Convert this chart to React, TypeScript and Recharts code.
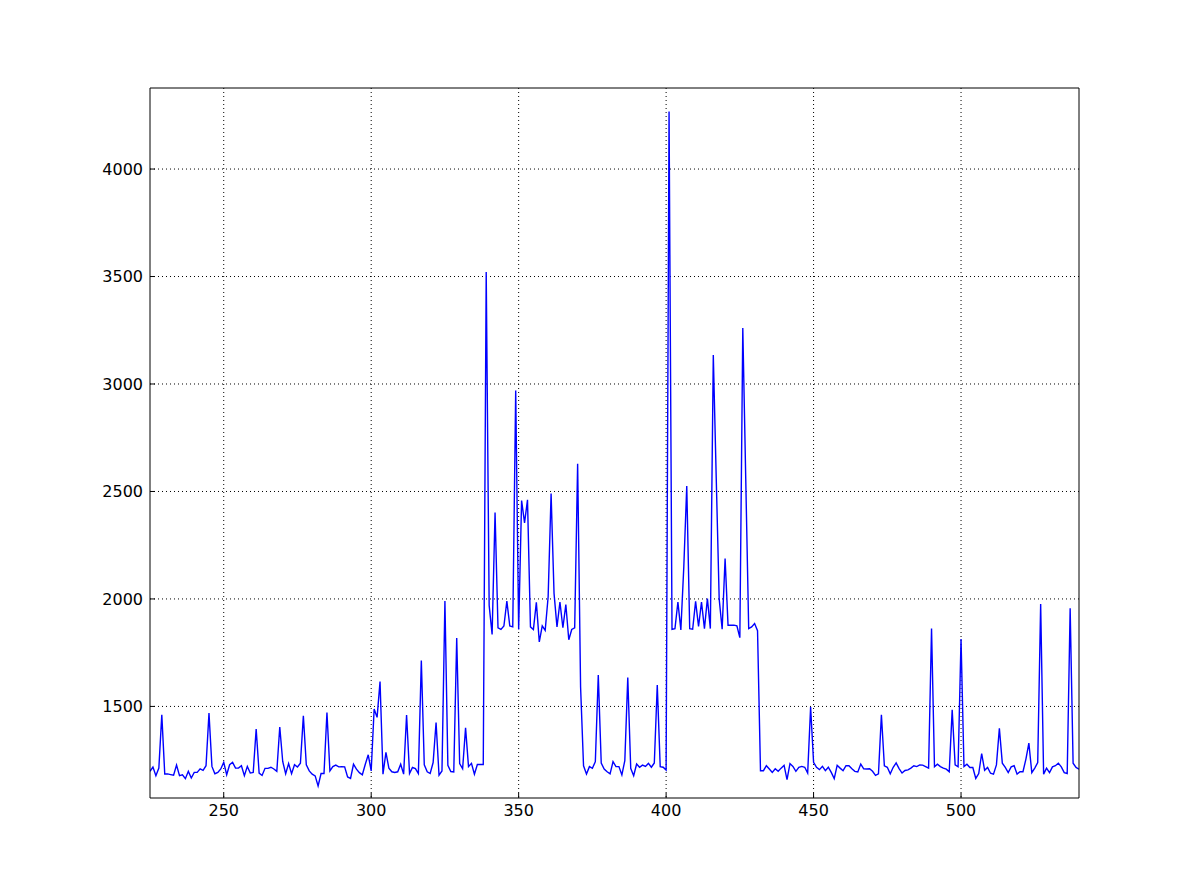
import { LineChart, Line, XAxis, YAxis, CartesianGrid } from 'recharts';

// x runs 225..540, one reading per integer step
const X_START = 225;

const seg225to300 = [
  1198, 1218, 1178, 1213, 1461, 1186, 1186, 1183, 1180, 1227,
  1178, 1182, 1164, 1198, 1167, 1193, 1193, 1210, 1203, 1224,
  1469, 1221, 1187, 1193, 1209, 1240, 1182, 1229, 1240, 1213,
  1213, 1224, 1178, 1221, 1190, 1193, 1395, 1190, 1179, 1212,
  1212, 1217, 1209, 1198, 1404, 1244, 1187, 1234, 1187, 1229,
  1218, 1236, 1456, 1228, 1200, 1185, 1177, 1130, 1188, 1188,
  1472, 1200, 1220, 1227, 1219, 1220, 1219, 1172, 1165, 1231,
  1208, 1192, 1182, 1231, 1275, 1200,
];

const seg301to338 = [
  1488, 1449, 1616, 1185, 1286, 1213, 1196, 1193, 1196, 1231,
  1185, 1460, 1188, 1216, 1211, 1188, 1713, 1228, 1196, 1188,
  1239, 1425, 1180, 1200, 1990, 1226, 1197, 1195, 1818, 1234,
  1210, 1400, 1220, 1235, 1185, 1230, 1230, 1230,
];

const seg339to371 = [
  3521, 1970, 1835, 2402, 1866, 1858, 1874, 1990, 1874, 1870,
  2970, 1858, 2458, 2354, 2461, 1870, 1858, 1984, 1800, 1875,
  1854, 2010, 2490, 2026, 1870, 1986, 1866, 1974, 1810, 1858,
  1866, 2629, 1590,
];

const seg372to400 = [
  1224, 1186, 1220, 1212, 1243, 1646, 1237, 1209, 1196, 1186,
  1243, 1220, 1220, 1181, 1248, 1635, 1212, 1178, 1232, 1217,
  1227, 1221, 1235, 1217, 1237, 1599, 1220, 1217, 1204,
];

const seg401to431 = [
  4268, 1859, 1862, 1986, 1856, 2150, 2525, 1862, 1859, 1989,
  1872, 1986, 1862, 2002, 1862, 3135, 2560, 1999, 1859, 2188,
  1878, 1878, 1878, 1875, 1820, 3261, 2560, 1862, 1870, 1886,
  1852,
];

const seg432to540 = [
  1201, 1201, 1224, 1209, 1193, 1210, 1198, 1213, 1226, 1159,
  1234, 1221, 1198, 1217, 1221, 1217, 1190, 1497, 1240, 1217,
  1206, 1221, 1201, 1217, 1193, 1164, 1226, 1213, 1201, 1224,
  1224, 1210, 1198, 1195, 1232, 1210, 1209, 1210, 1198, 1179,
  1186, 1461, 1224, 1217, 1187, 1217, 1237, 1211, 1190, 1202,
  1205, 1213, 1224, 1220, 1228, 1227, 1220, 1213, 1863, 1219,
  1231, 1220, 1213, 1208, 1196, 1484, 1228, 1219, 1814, 1220,
  1231, 1216, 1216, 1165, 1188, 1281, 1203, 1216, 1189, 1185,
  1228, 1398, 1236, 1216, 1192, 1219, 1224, 1185, 1196, 1196,
  1255, 1329, 1192, 1213, 1239, 1977, 1185, 1213, 1192, 1219,
  1224, 1236, 1219, 1192, 1188, 1957, 1236, 1216, 1208,
];

const xTicks = [250, 300, 350, 400, 450, 500];
const yTicks = [1500, 2000, 2500, 3000, 3500, 4000];

const values = [
  ...seg225to300,
  ...seg301to338,
  ...seg339to371,
  ...seg372to400,
  ...seg401to431,
  ...seg432to540,
];

const data = values.map((v, i) => ({ x: X_START + i, y: v }));

const tickFont = { fill: '#000', fontSize: 16, fontFamily: 'DejaVu Sans' };

export default function App() {
  return (
    <div style={{ width: 1198, height: 887, background: '#fff' }}>
      <style>{'body { margin: 0; }'}</style>
      <LineChart
        width={1198}
        height={887}
        data={data}
        margin={{ top: 87, right: 118, bottom: 59, left: 90 }}
      >
        <CartesianGrid
          stroke="#000"
          strokeDasharray="1 3"
          strokeWidth={1}
          horizontalValues={yTicks}
          verticalValues={xTicks}
        />
        <XAxis
          dataKey="x"
          type="number"
          domain={[225, 540]}
          ticks={xTicks}
          allowDataOverflow
          height={30}
          stroke="#000"
          tickSize={-5}
          tickMargin={12}
          tick={tickFont}
        />
        <XAxis
          xAxisId="top"
          orientation="top"
          dataKey="x"
          type="number"
          domain={[225, 540]}
          ticks={xTicks}
          allowDataOverflow
          height={1}
          stroke="#000"
          tickSize={-5}
          tick={false}
        />
        <YAxis
          type="number"
          domain={[1074, 4377]}
          ticks={yTicks}
          allowDataOverflow
          width={60}
          stroke="#000"
          tickSize={-5}
          tickMargin={12}
          tick={tickFont}
        />
        <YAxis
          yAxisId="right"
          orientation="right"
          type="number"
          domain={[1074, 4377]}
          ticks={yTicks}
          allowDataOverflow
          width={1}
          stroke="#000"
          tickSize={-5}
          tick={false}
        />
        <Line
          type="linear"
          dataKey="y"
          stroke="#0000ff"
          strokeWidth={1.4}
          dot={false}
          isAnimationActive={false}
        />
      </LineChart>
    </div>
  );
}
